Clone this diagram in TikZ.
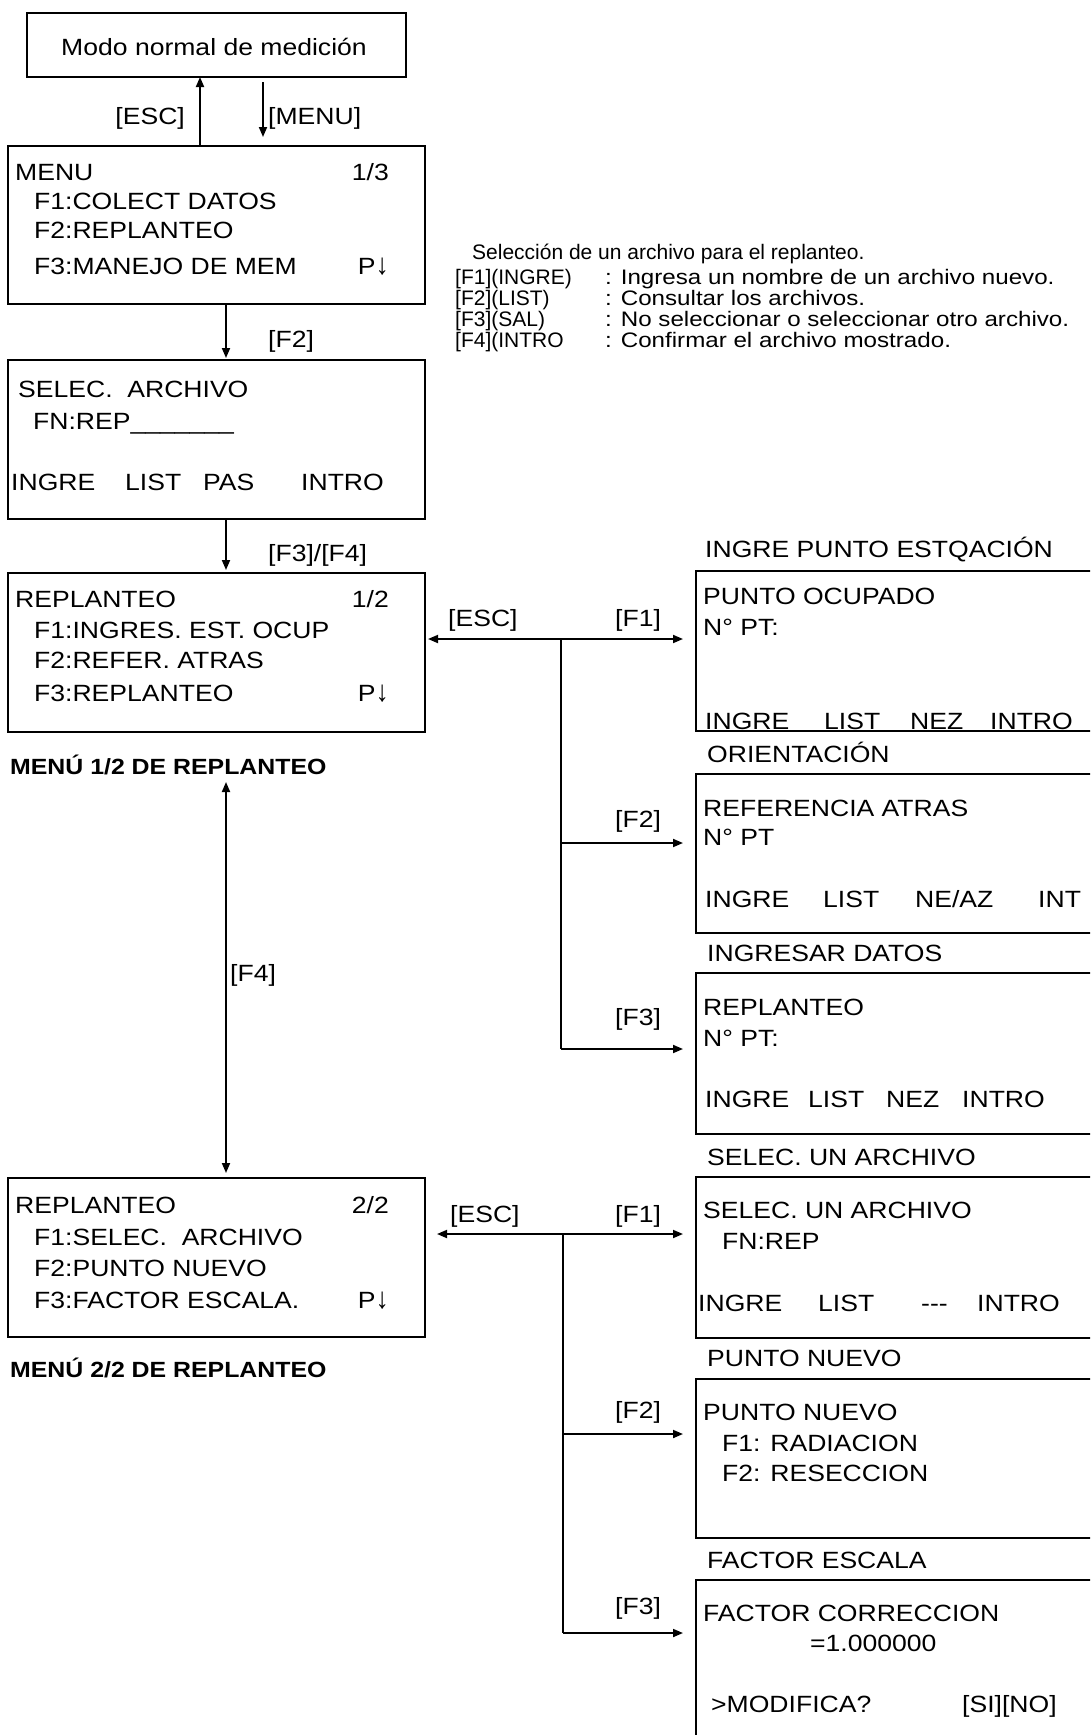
\documentclass[tikz,border=0pt]{standalone}
\usepackage{fontspec}
\setmainfont[FakeStretch=1.13]{Liberation Sans}
\newfontfamily\annfamily[FakeStretch=1.0]{Liberation Sans}
\newfontfamily\annwfamily[FakeStretch=1.15]{Liberation Sans}
\usetikzlibrary{arrows.meta}
\newcommand{\mfont}{\fontsize{23.5}{28}\selectfont}
\newcommand{\afont}{\annfamily\fontsize{21}{24}\selectfont}
\newcommand{\awfont}{\annwfamily\fontsize{21}{24}\selectfont}
\newcommand{\bfont}{\fontsize{22}{26}\selectfont\bfseries}
\newcommand{\darrow}{\scalebox{1}[1.25]{↓}}
\begin{document}
\begin{tikzpicture}[x=1pt,y=-1pt,
  box/.style={draw, line width=2pt, rectangle, anchor=north west, inner sep=0pt, outer sep=0pt},
  txt/.style={inner sep=0pt, anchor=base west, font=\mfont},
  rtxt/.style={inner sep=0pt, anchor=base east, font=\mfont},
  ann/.style={inner sep=0pt, anchor=base west, font=\afont},
  annw/.style={inner sep=0pt, anchor=base west, font=\awfont},
  btxt/.style={inner sep=0pt, anchor=base west, font=\bfont},
  arr/.style={line width=1.8pt, -{Triangle[length=10pt,width=8pt]}},
  darr/.style={line width=1.8pt, {Triangle[length=10pt,width=8pt]}-{Triangle[length=10pt,width=8pt]}},
  ln/.style={line width=1.5pt}]
\useasboundingbox (0,0) rectangle (1090,1735);
\fill[white] (0,0) rectangle (1090,1735);
\clip (0,0) rectangle (1090,1735);

% ---------- boxes ----------
\node[box, minimum width=379pt, minimum height=64pt] (top) at (27,13) {};
\node[box, minimum width=417pt, minimum height=158pt] (menu) at (8,146) {};
\node[box, minimum width=417pt, minimum height=159pt] (sel) at (8,360) {};
\node[box, minimum width=417pt, minimum height=159pt] (r1) at (8,573) {};
\node[box, minimum width=417pt, minimum height=159pt] (r2) at (8,1178) {};
\node[box, minimum width=420pt, minimum height=160pt] (b1) at (696,571) {};
\node[box, minimum width=420pt, minimum height=159pt] (b2) at (696,774) {};
\node[box, minimum width=420pt, minimum height=161pt] (b3) at (696,973) {};
\node[box, minimum width=420pt, minimum height=161pt] (b4) at (696,1177) {};
\node[box, minimum width=420pt, minimum height=159pt] (b5) at (696,1379) {};
\node[box, minimum width=420pt, minimum height=200pt] (b6) at (696,1580) {};

% ---------- top ----------
\node[txt, anchor=base] (t0) at (214,55) {Modo normal de medición};
\node[rtxt] (lesc0) at (185,124) {[ESC]};
\node[txt] (lmenu) at (268,124) {[MENU]};

% ---------- MENU ----------
\node[txt] (m0) at (15,180) {MENU};
\node[rtxt] (m0r) at (389,180) {1/3};
\node[txt] (m1) at (34,209) {F1:COLECT DATOS};
\node[txt] (m2) at (34,238) {F2:REPLANTEO};
\node[txt] (m3) at (34,274) {F3:MANEJO DE MEM};
\node[rtxt] (m3r) at (389,274) {P\darrow};
\node[txt] (lf2) at (268,347) {[F2]};

% ---------- SELEC ARCHIVO ----------
\node[txt] (s0) at (18,397) {SELEC.\ \ ARCHIVO};
\node[txt] (s1) at (33,429) {FN:REP\_\_\_\_\_\_\_};
\node[txt] (s2) at (11,490) {INGRE};
\node[txt] (s3) at (125,490) {LIST};
\node[txt] (s4) at (203,490) {PAS};
\node[txt] (s5) at (301,490) {INTRO};
\node[txt] (lf34) at (268,561) {[F3]/[F4]};

% ---------- REPLANTEO 1/2 ----------
\node[txt] (r1a) at (15,607) {REPLANTEO};
\node[rtxt] (r1b) at (389,607) {1/2};
\node[txt] (r1c) at (34,638) {F1:INGRES. EST. OCUP};
\node[txt] (r1d) at (34,668) {F2:REFER. ATRAS};
\node[txt] (r1e) at (34,701) {F3:REPLANTEO};
\node[rtxt] (r1f) at (389,701) {P\darrow};
\node[btxt] (lab1) at (10,774) {MENÚ 1/2 DE REPLANTEO};
\node[txt] (lf4) at (230,981) {[F4]};

% ---------- REPLANTEO 2/2 ----------
\node[txt] (r2a) at (15,1213) {REPLANTEO};
\node[rtxt] (r2b) at (389,1213) {2/2};
\node[txt] (r2c) at (34,1245) {F1:SELEC.\ \ ARCHIVO};
\node[txt] (r2d) at (34,1276) {F2:PUNTO NUEVO};
\node[txt] (r2e) at (34,1308) {F3:FACTOR ESCALA.};
\node[rtxt] (r2f) at (389,1308) {P\darrow};
\node[btxt] (lab2) at (10,1377) {MENÚ 2/2 DE REPLANTEO};

% ---------- annotation ----------
\node[ann] (n0) at (472,259) {Selección de un archivo para el replanteo.};
\node[ann] (n1) at (455,284) {[F1](INGRE)};
\node[annw] (n1b) at (605,284) {: Ingresa un nombre de un archivo nuevo.};
\node[ann] (n2) at (455,305) {[F2](LIST)};
\node[annw] (n2b) at (605,305) {: Consultar los archivos.};
\node[ann] (n3) at (455,326) {[F3](SAL)};
\node[annw] (n3b) at (605,326) {: No seleccionar o seleccionar otro archivo.};
\node[ann] (n4) at (455,347) {[F4](INTRO};
\node[annw] (n4b) at (605,347) {: Confirmar el archivo mostrado.};

% ---------- middle labels ----------
\node[txt] (le1) at (448,626) {[ESC]};
\node[txt] (lf1a) at (615,626) {[F1]};
\node[txt] (lf2a) at (615,827) {[F2]};
\node[txt] (lf3a) at (615,1025) {[F3]};
\node[txt] (le2) at (450,1222) {[ESC]};
\node[txt] (lf1b) at (615,1222) {[F1]};
\node[txt] (lf2b) at (615,1418) {[F2]};
\node[txt] (lf3b) at (615,1614) {[F3]};

% ---------- right screens ----------
\node[txt] (h1) at (705,557) {INGRE PUNTO ESTQACIÓN};
\node[txt] (b1a) at (703,604) {PUNTO OCUPADO};
\node[txt] (b1b) at (703,635) {N° PT:};
\node[txt] (b1c) at (705,729) {INGRE};
\node[txt] (b1d) at (824,729) {LIST};
\node[txt] (b1e) at (910,729) {NEZ};
\node[txt] (b1f) at (990,729) {INTRO};

\node[txt] (h2) at (707,762) {ORIENTACIÓN};
\node[txt] (b2a) at (703,816) {REFERENCIA ATRAS};
\node[txt] (b2b) at (703,845) {N° PT};
\node[txt] (b2c) at (705,907) {INGRE};
\node[txt] (b2d) at (823,907) {LIST};
\node[txt] (b2e) at (915,907) {NE/AZ};
\node[txt] (b2f) at (1038,907) {INT};

\node[txt] (h3) at (707,961) {INGRESAR DATOS};
\node[txt] (b3a) at (703,1015) {REPLANTEO};
\node[txt] (b3b) at (703,1046) {N° PT:};
\node[txt] (b3c) at (705,1107) {INGRE};
\node[txt] (b3d) at (808,1107) {LIST};
\node[txt] (b3e) at (886,1107) {NEZ};
\node[txt] (b3f) at (962,1107) {INTRO};

\node[txt] (h4) at (707,1165) {SELEC. UN ARCHIVO};
\node[txt] (b4a) at (703,1218) {SELEC. UN ARCHIVO};
\node[txt] (b4b) at (722,1249) {FN:REP};
\node[txt] (b4c) at (698,1311) {INGRE};
\node[txt] (b4d) at (818,1311) {LIST};
\node[txt] (b4e) at (921,1311) {{-}{-}{-}};
\node[txt] (b4f) at (977,1311) {INTRO};

\node[txt] (h5) at (707,1366) {PUNTO NUEVO};
\node[txt] (b5a) at (703,1420) {PUNTO NUEVO};
\node[txt] (b5b) at (722,1451) {F1: RADIACION};
\node[txt] (b5c) at (722,1481) {F2: RESECCION};

\node[txt] (h6) at (707,1568) {FACTOR ESCALA};
\node[txt] (b6a) at (703,1621) {FACTOR CORRECCION};
\node[txt] (b6b) at (810,1651) {=1.000000};
\node[txt] (b6c) at (711,1712) {>MODIFICA?};
\node[txt] (b6d) at (962,1712) {[SI][NO]};

% ---------- connectors ----------
\coordinate (ax) at (200,0);
\coordinate (bx) at (263,0);
\coordinate (cx) at (226,0);
\draw[arr] (ax |- menu.north) -- (ax |- top.south);
\draw[arr, shorten <=5pt, shorten >=9pt] (bx |- top.south) -- (bx |- menu.north);
\draw[arr, shorten >=2pt] (cx |- menu.south) -- (cx |- sel.north);
\draw[arr, shorten >=3pt] (cx |- sel.south) -- (cx |- r1.north);
\coordinate (f4top) at (226,782);
\draw[darr, shorten >=5pt] (f4top) -- (cx |- r2.north);

\coordinate (j1) at (561,639);
\coordinate (j2) at (561,843);
\coordinate (j3) at (561,1049);
\draw[ln] (j1) -- (j3);
\draw[arr, shorten >=3pt] (j1) -- (j1 -| r1.east);
\draw[arr, shorten >=13pt] (j1) -- (j1 -| b1.west);
\draw[arr, shorten >=13pt] (j2) -- (j2 -| b2.west);
\draw[arr, shorten >=13pt] (j3) -- (j3 -| b3.west);

\coordinate (j4) at (563,1234);
\coordinate (j5) at (563,1434);
\coordinate (j6) at (563,1633);
\draw[ln] (j4) -- (j6);
\draw[arr, shorten >=12pt] (j4) -- (j4 -| r2.east);
\draw[arr, shorten >=13pt] (j4) -- (j4 -| b4.west);
\draw[arr, shorten >=13pt] (j5) -- (j5 -| b5.west);
\draw[arr, shorten >=13pt] (j6) -- (j6 -| b6.west);
\end{tikzpicture}
\end{document}
